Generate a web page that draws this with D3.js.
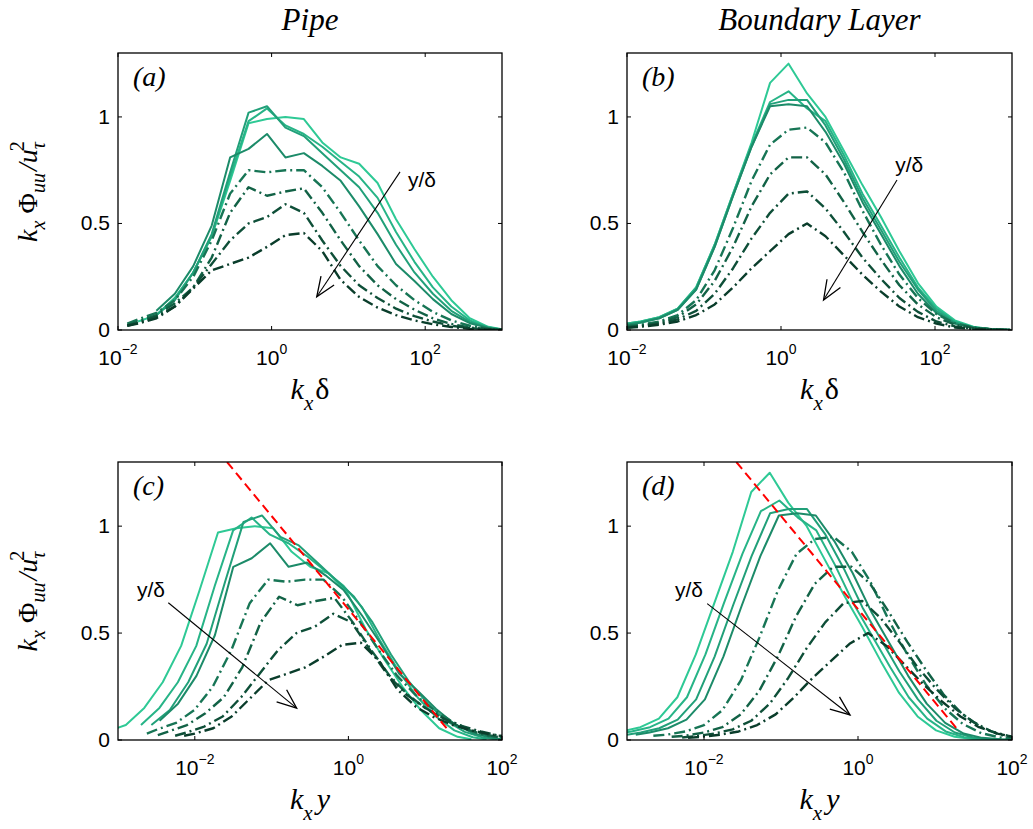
<!DOCTYPE html>
<html>
<head>
<meta charset="utf-8">
<script src="https://cdn.jsdelivr.net/npm/d3@7"></script>
<style>
  body { margin: 0; background: #fff; }
  .tick-label { font-family: "Liberation Sans", Arial, sans-serif; font-size: 21px; fill: #000; }
  .serif { font-family: "Liberation Serif", "Times New Roman", serif; fill: #000; }
</style>
</head>
<body>
<svg id="fig" width="1033" height="829"></svg>
<script>
// ---- streamwise wavenumber grids (kx*delta) ----
const pipeKx = [0.0132, 0.0182, 0.03162, 0.05495, 0.0955, 0.166, 0.2884, 0.5012, 0.871, 1.514, 2.63,
                4.571, 7.943, 13.8, 23.99, 41.69, 72.44, 125.9, 218.8, 380.2, 660.7, 1000];
const blKx = [0.01, 0.01507, 0.02618, 0.0455, 0.07907, 0.1374, 0.2388, 0.415, 0.7211, 1.253, 2.178,
              3.784, 6.577, 11.43, 19.86, 34.51, 59.98, 104.2, 181.1, 314.8, 547.0, 950.6];

// ---- wall-normal positions y/delta of each spectrum ----
const pipeYDelta = [0.04, 0.063, 0.086, 0.11, 0.18, 0.25, 0.42, 0.55];
const blYDelta = [0.057, 0.076, 0.1, 0.13, 0.22, 0.38, 0.52, 0.62];

// ---- premultiplied spectra kx*Phi_uu/u_tau^2, pipe ----
const pipe1 = [null, 0.04, 0.07, 0.15, 0.27, 0.44, 0.70, 0.97, 0.99, 1.00, 0.99, 0.88, 0.81, 0.78, 0.69, 0.52, 0.38, 0.25, 0.14, 0.055, 0.015, 0.003];
const pipe2 = [null, null, 0.07, 0.15, 0.27, 0.44, 0.72, 0.98, 1.04, 0.96, 0.92, 0.86, 0.79, 0.72, 0.62, 0.46, 0.32, 0.20, 0.11, 0.045, 0.013, 0.002];
const pipe3 = [null, null, 0.07, 0.14, 0.27, 0.45, 0.74, 1.02, 1.05, 0.95, 0.91, 0.83, 0.75, 0.67, 0.55, 0.40, 0.27, 0.17, 0.09, 0.038, 0.011, 0.002];
const pipe4 = [null, null, 0.09, 0.17, 0.30, 0.49, 0.81, 0.85, 0.92, 0.81, 0.83, 0.77, 0.70, 0.58, 0.45, 0.31, 0.23, 0.145, 0.075, 0.032, 0.01, 0.001];
const pipe5 = [0.03, 0.05, 0.08, 0.14, 0.25, 0.42, 0.64, 0.75, 0.74, 0.75, 0.75, 0.67, 0.55, 0.42, 0.30, 0.21, 0.14, 0.085, 0.045, 0.02, 0.007, 0.001];
const pipe6 = [0.023, 0.04, 0.07, 0.125, 0.2, 0.34, 0.55, 0.67, 0.63, 0.65, 0.665, 0.55, 0.42, 0.30, 0.21, 0.145, 0.095, 0.055, 0.028, 0.012, 0.004, 0.001];
const pipe7 = [0.02, 0.034, 0.063, 0.11, 0.2, 0.31, 0.42, 0.50, 0.53, 0.59, 0.55, 0.42, 0.30, 0.21, 0.15, 0.10, 0.065, 0.04, 0.02, 0.009, 0.003, 0.001];
const pipe8 = [0.02, 0.03, 0.055, 0.11, 0.195, 0.28, 0.31, 0.34, 0.39, 0.445, 0.455, 0.37, 0.235, 0.155, 0.105, 0.07, 0.045, 0.027, 0.014, 0.006, 0.002, 0.001];

// ---- premultiplied spectra, boundary layer ----
const bl1 = [0.03, 0.04, 0.06, 0.10, 0.20, 0.40, 0.64, 0.88, 1.16, 1.25, 1.11, 1.00, 0.84, 0.68, 0.53, 0.37, 0.22, 0.11, 0.045, 0.015, 0.004, 0];
const bl2 = [0.03, 0.04, 0.06, 0.10, 0.20, 0.40, 0.64, 0.87, 1.07, 1.12, 1.04, 0.98, 0.82, 0.64, 0.49, 0.34, 0.20, 0.10, 0.04, 0.013, 0.004, 0];
const bl3 = [0.025, 0.035, 0.055, 0.095, 0.19, 0.39, 0.63, 0.86, 1.06, 1.08, 1.08, 0.96, 0.80, 0.62, 0.47, 0.32, 0.19, 0.09, 0.035, 0.012, 0.003, 0];
const bl4 = [0.025, 0.035, 0.055, 0.095, 0.19, 0.39, 0.63, 0.86, 1.05, 1.06, 1.05, 0.93, 0.78, 0.60, 0.45, 0.30, 0.17, 0.08, 0.03, 0.01, 0.003, 0];
const bl5 = [0.02, 0.025, 0.04, 0.07, 0.14, 0.28, 0.48, 0.70, 0.87, 0.94, 0.95, 0.88, 0.74, 0.56, 0.40, 0.26, 0.15, 0.075, 0.032, 0.012, 0.004, 0];
const bl6 = [0.015, 0.02, 0.035, 0.06, 0.12, 0.23, 0.39, 0.58, 0.73, 0.81, 0.81, 0.73, 0.60, 0.46, 0.33, 0.21, 0.12, 0.06, 0.025, 0.01, 0.003, 0];
const bl7 = [0.012, 0.018, 0.03, 0.05, 0.09, 0.17, 0.29, 0.43, 0.55, 0.64, 0.65, 0.57, 0.46, 0.34, 0.24, 0.15, 0.085, 0.04, 0.017, 0.006, 0.002, 0];
const bl8 = [0.01, 0.015, 0.025, 0.04, 0.07, 0.12, 0.20, 0.29, 0.37, 0.45, 0.50, 0.44, 0.35, 0.26, 0.18, 0.11, 0.06, 0.03, 0.012, 0.005, 0.002, 0];

const pipeSeries = [pipe1, pipe2, pipe3, pipe4, pipe5, pipe6, pipe7, pipe8];
const blSeries = [bl1, bl2, bl3, bl4, bl5, bl6, bl7, bl8];

// line colours (light -> dark with increasing y/delta) and styles
const seriesColors = ["#2ec995", "#27b487", "#21a079", "#1c8b69", "#177555", "#126246", "#0e4f38", "#0a3d2b"];
const seriesDash = [null, null, null, null, "11,4,2,4", "11,4,2,4", "11,4,2,4", "11,4,2,4"];

// log-law reference lines in kx*y: [x0, x1] and [y0, y1]
const logLawX = [0.0263, 19.8];
const logLawY = [1.30, 0.047];

// axis ticks
const yTicks = [0, 0.5, 1];
const yTickLabels = ["0", "0.5", "1"];
const xTicksTop = [1e-2, 1e0, 1e2];
const xTicksBottom = [1e-2, 1e0, 1e2];
const yMax = 1.3;

// text
const titles = ["Pipe", "Boundary Layer"];
const panelTags = ["(a)", "(b)", "(c)", "(d)"];

const svg = d3.select("#fig");

const panels = [
  { tag: 0, left: 118, right: 502, top: 53, bottom: 330, dom: [1e-2, 1e3], kx: pipeKx, series: pipeSeries, yd: null, ticks: xTicksTop,
    arrow: [[47, 0.742], [3.87, 0.156]], arrowText: [59.7, 0.671], xlab: "delta" },
  { tag: 1, left: 627, right: 1012, top: 53, bottom: 330, dom: [1e-2, 1e3], kx: blKx, series: blSeries, yd: null, ticks: xTicksTop,
    arrow: [[32.1, 0.704], [3.57, 0.141]], arrowText: [30.5, 0.742], xlab: "delta" },
  { tag: 2, left: 118, right: 502, top: 462, bottom: 740, dom: [1e-3, 1e2], kx: pipeKx, series: pipeSeries, yd: pipeYDelta, ticks: xTicksBottom,
    arrow: [[0.00452, 0.642], [0.212, 0.149]], arrowText: [0.00177, 0.667], xlab: "y" },
  { tag: 3, left: 627, right: 1012, top: 462, bottom: 740, dom: [1e-3, 1e2], kx: blKx, series: blSeries, yd: blYDelta, ticks: xTicksBottom,
    arrow: [[0.0110, 0.638], [0.787, 0.117]], arrowText: [0.0042, 0.667], xlab: "y" }
];

panels.forEach((p, pi) => {
  const x = d3.scaleLog().domain(p.dom).range([p.left, p.right]);
  const y = d3.scaleLinear().domain([0, yMax]).range([p.bottom, p.top]);
  const g = svg.append("g");

  const clipId = "clip" + pi;
  svg.append("clipPath").attr("id", clipId).append("rect")
    .attr("x", p.left).attr("y", p.top).attr("width", p.right - p.left).attr("height", p.bottom - p.top);

  const plot = g.append("g").attr("clip-path", `url(#${clipId})`);

  // spectra
  p.series.forEach((vals, si) => {
    const scale = p.yd ? p.yd[si] : 1;
    const pts = vals.map((v, i) => [p.kx[i] * scale, v]);
    const line = d3.line().defined(d => d[1] !== null).x(d => x(d[0])).y(d => y(d[1]));
    plot.append("path")
      .attr("d", line(pts))
      .attr("fill", "none")
      .attr("stroke", seriesColors[si])
      .attr("stroke-width", seriesDash[si] ? 2.4 : 2)
      .attr("stroke-dasharray", seriesDash[si])
      .attr("stroke-linejoin", "round");
  });

  // log-law line in the kx*y panels
  if (p.yd) {
    const pts = logLawX.map((v, i) => [v, logLawY[i]]);
    plot.append("path")
      .attr("d", d3.line().x(d => x(d[0])).y(d => y(d[1]))(pts))
      .attr("fill", "none").attr("stroke", "#ff0000").attr("stroke-width", 2)
      .attr("stroke-dasharray", "9,5");
  }

  // box
  g.append("rect").attr("x", p.left).attr("y", p.top)
    .attr("width", p.right - p.left).attr("height", p.bottom - p.top)
    .attr("fill", "none").attr("stroke", "#000").attr("stroke-width", 1.3);

  // inward ticks on all sides
  const tl = 4;
  p.ticks.forEach(t => {
    const xx = x(t);
    g.append("line").attr("x1", xx).attr("x2", xx).attr("y1", p.bottom).attr("y2", p.bottom - tl).attr("stroke", "#000");
    g.append("line").attr("x1", xx).attr("x2", xx).attr("y1", p.top).attr("y2", p.top + tl).attr("stroke", "#000");
    const e = Math.round(Math.log10(t));
    const txt = g.append("text").attr("class", "tick-label").attr("x", xx).attr("y", p.bottom + 35).attr("text-anchor", "middle");
    txt.append("tspan").text("10");
    txt.append("tspan").attr("dy", -11).attr("font-size", "14px").text(e < 0 ? "\u2212" + (-e) : String(e));
  });
  yTicks.forEach((t, i) => {
    const yy = y(t);
    g.append("line").attr("x1", p.left).attr("x2", p.left + tl).attr("y1", yy).attr("y2", yy).attr("stroke", "#000");
    g.append("line").attr("x1", p.right).attr("x2", p.right - tl).attr("y1", yy).attr("y2", yy).attr("stroke", "#000");
    g.append("text").attr("class", "tick-label").attr("x", p.left - 8).attr("y", yy + 7)
      .attr("text-anchor", "end").text(yTickLabels[i]);
  });

  // panel tag
  g.append("text").attr("class", "serif").attr("x", p.left + 15).attr("y", p.top + 33)
    .attr("font-size", "28px").attr("font-style", "italic").text(panelTags[p.tag]);

  // y/delta arrow
  const [a0, a1] = p.arrow;
  const x0 = x(a0[0]), y0 = y(a0[1]), x1 = x(a1[0]), y1 = y(a1[1]);
  g.append("line").attr("x1", x0).attr("y1", y0).attr("x2", x1).attr("y2", y1).attr("stroke", "#000").attr("stroke-width", 1.1);
  const ang = Math.atan2(y0 - y1, x0 - x1);
  const hl = 21, ha = 22 * Math.PI / 180;
  const head = [[x1 + hl * Math.cos(ang - ha), y1 + hl * Math.sin(ang - ha)], [x1, y1], [x1 + hl * Math.cos(ang + ha), y1 + hl * Math.sin(ang + ha)]];
  g.append("path").attr("d", d3.line()(head)).attr("fill", "none").attr("stroke", "#000").attr("stroke-width", 1.3);
  g.append("text").attr("class", "tick-label").attr("x", x(p.arrowText[0])).attr("y", y(p.arrowText[1]))
    .attr("font-size", "20px").text("y/\u03b4");

  // x label
  const cx = (p.left + p.right) / 2;
  const xl = g.append("text").attr("class", "serif").attr("x", cx).attr("y", p.bottom + 69)
    .attr("text-anchor", "middle").attr("font-size", "30px");
  xl.append("tspan").attr("font-style", "italic").text("k");
  xl.append("tspan").attr("font-style", "italic").attr("font-size", "21px").attr("dy", 11).text("x");
  if (p.xlab === "delta") {
    xl.append("tspan").attr("dy", -11).attr("dx", 2).text("\u03b4");
  } else {
    xl.append("tspan").attr("dy", -11).attr("dx", 4).attr("font-style", "italic").text("y");
  }

  // y label (left column only)
  if (p.left < 300) {
    const cy = (p.top + p.bottom) / 2;
    const yl = g.append("text").attr("class", "serif")
      .attr("transform", `translate(37,${cy}) rotate(-90)`)
      .attr("text-anchor", "middle").attr("font-size", "28px");
    yl.append("tspan").attr("font-style", "italic").text("k");
    yl.append("tspan").attr("font-style", "italic").attr("font-size", "20px").attr("dy", 8).text("x");
    yl.append("tspan").attr("dy", -8).attr("dx", 7).text("\u03a6");
    yl.append("tspan").attr("font-style", "italic").attr("font-size", "20px").attr("dy", 8).text("uu");
    yl.append("tspan").attr("font-style", "italic").attr("dy", -8).attr("dx", 2).text("/u");
    yl.append("tspan").attr("font-style", "italic").attr("font-size", "20px").attr("dy", 8).text("\u03c4");
    yl.append("tspan").attr("font-size", "20px").attr("dy", -21).attr("dx", -9).text("2");
  }
});

// column titles
[[118, 502], [627, 1012]].forEach((c, i) => {
  svg.append("text").attr("class", "serif").attr("x", (c[0] + c[1]) / 2).attr("y", 30)
    .attr("text-anchor", "middle").attr("font-size", "31px").attr("font-style", "italic").text(titles[i]);
});
</script>
</body>
</html>
